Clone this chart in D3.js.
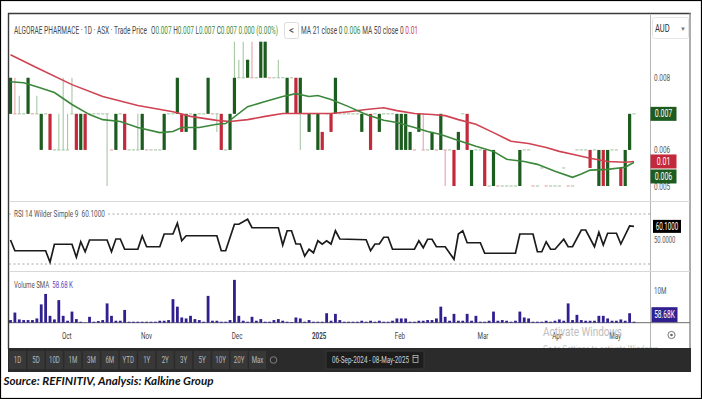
<!DOCTYPE html>
<html>
<head>
<meta charset="utf-8">
<script src="https://cdn.jsdelivr.net/npm/d3@7"></script>
<style>
  body { margin: 0; background: #fff; }
  svg { display: block; font-family: Roboto, "Liberation Sans", sans-serif; }
</style>
</head>
<body>
<div id="chart"></div>
<script>
// prices in thousandths of AUD: [open, high, low, close], one row per trading day
const ohlc = [
    [7,8,7,8],[7,8,7,7],[7,7.5,7,7],[7,7,7,7],[7,8,7,8],[7,7,7,7],[7,7.5,7,7],[6,7,6,7],[7,7,7,7],[7,7,6,6],
    [6,6,6,6],[6,7,6,6],[6,8,6,6],[6,7,6,6],[7,8,7,7],[7,7,6,6],[6,7,6,7],[7,7,6,6],[7,7,7,7],[7,7,7,7],
    [7,7,7,7],[7,7,7,7],[7,7,5,7],[6,6,6,6],[6,7,6,7],[7,7,7,7],[7,7,6,6],[6,6,6,6],[6,6,6,6],[6,7,6,6],
    [6,7,6,7],[6,6,6,6],[6,6,6,6],[6,6,6,6],[6,6,6,6],[6,7,6,7],[7,7,7,7],[7,7,7,7],[7,8,7,8],[7,7,6.5,6.5],
    [6.5,7,6.5,7],[7,7,7,7],[6,7,6,7],[7,7,7,7],[7,7,7,7],[7,8,7,8],[7,7,7,7],[7,7,6.5,7],[7,7,6,6],[6,6,6,6],
    [6,7,6,7],[7,9,7,8],[8,8.5,8,8],[8,9,8,8],[8,8.5,8,8.5],[8,9,8,8],[8,8,8,8],[8,9,8,9],[8,9,8,9],[8,8,8,8],
    [8,8,8,8],[8,8.5,8,8],[8,8,8,8],[7,8,7,8],[8,8,8,8],[8,8,7,7],[7,8,6,8],[7,7,7,7],[6.5,7,6.5,7],[7,7,7,7],
    [6,7,6,7],[6.5,6.5,6,6],[7,7,7,7],[7,7,6.5,6.5],[7,8,7,8],[7,7,7,7],[7,7,7,7],[7,7,7,7],[7,7,7,7],[7,7,7,7],
    [6.5,7,6.5,7],[7,7,7,7],[7,7,6,6],[7,7,7,7],[6.5,7,6.5,7],[7,7,7,7],[7,7,7,7],[7,7,7,7],[6,7,6,7],[6,7,6,7],
    [6,7,6,7],[6,6.5,6,6.5],[6,6,6,6],[6.5,7,6.5,7],[6,7,6,6],[6,6,6,6],[6,6.5,6,6.5],[6,6,6,6],[6,7,6,7],[6,6,5,6],
    [6,6,6,6],[6,6,5,5],[6,6.5,6,6.5],[7,7,7,7],[7,7,6,6],[5,6,5,6],[6,6,6,6],[6,6,6,6],[6,6,5,5],[5,5,5,5],
    [5,6,5,6],[5,5,5,5],[5,5,5,5],[5,5,5,5],[5,5,5,5],[5,5,5,5],[5,6,5,6],[6,6,6,6],[6,6,6,6],[5,5,5,5],
    [5,5,5,5],[5.5,5.5,5.5,5.5],[5,5,5,5],[5,5,5,5],[5,5,5,5],[5,5,5,5],[5.5,5.5,5.5,5.5],[5,5,5,5],[5,5,5,5],[6,6,6,6],
    [6,6,6,6],[6,6,6,6],[6,6,5.5,5.5],[6,6,6,6],[5,6,5,6],[6,6,5,5],[5,6,5,6],[6,6,6,6],[6,6,6,6],[5.5,5.5,5,5],
    [5,6,5,6],[6,7,6,7],[7,7,7,7]
];

// volume in millions of shares
const volumeM = [
    0.8, 3.1, 1.0, 0.8, 0.8, 0.8, 1.3, 5.6, 8.8, 2.1,
    1.0, 6.9, 2.1, 0.6, 3.4, 1.1, 0.3, 0.1, 1.8, 0.3,
    0.5, 0.8, 5.9, 2.1, 0.6, 0.6, 3.9, 0.3, 0.3, 0.3,
    0.3, 0.3, 0.3, 0.3, 0.6, 0.6, 0.8, 7.2, 4.9, 1.6,
    1.3, 2.1, 1.1, 0.8, 0.3, 8.2, 0.6, 0.6, 0.3, 0.3,
    0.8, 13.1, 2.1, 0.6, 0.3, 1.8, 0.6, 1.1, 0.3, 0.3,
    0.8, 1.1, 0.6, 0.3, 0.2, 1.6, 1.3, 0.3, 0.8, 0.3,
    0.3, 0.3, 2.9, 0.6, 2.7, 0.8, 0.3, 0.3, 0.3, 0.3,
    0.6, 0.3, 0.6, 0.3, 0.6, 0.3, 0.3, 0.6, 1.3, 1.3,
    1.3, 0.3, 0.3, 0.6, 0.6, 0.8, 0.8, 1.3, 4.9, 1.8,
    0.6, 2.7, 0.6, 0.6, 2.7, 0.6, 2.1, 0.3, 0.3, 0.6,
    3.4, 0.6, 0.8, 0.6, 0.3, 0.6, 3.4, 1.6, 1.3, 0.3,
    0.3, 0.3, 0.6, 0.3, 0.6, 1.0, 0.6, 5.9, 0.8, 2.4,
    0.8, 0.6, 0.6, 0.6, 2.1, 2.1, 1.3, 0.6, 0.6, 1.0,
    0.6, 2.9, 0.3
];

// moving averages, [day index, price in thousandths]
const ma21 = [
    [0,7.89],[3,7.86],[6,7.75],[10,7.59],[14,7.26],[18,6.98],[21,6.84],[25,6.79],[29,6.62],[34,6.48],
    [37,6.51],[39,6.62],[43,6.62],[47,6.71],[49,6.73],[54,7.20],[58,7.34],[62,7.48],[65,7.56],[68,7.48],
    [70,7.51],[73,7.40],[77,7.20],[81,6.98],[85,6.82],[88,6.76],[92,6.62],[95,6.51],[98,6.43],[102,6.26],
    [106,6.10],[110,5.96],[113,5.74],[117,5.68],[120,5.60],[124,5.41],[128,5.24],[130,5.33],[132,5.44],[136,5.46],
    [140,5.52],[142,5.66]
];
const ma50 = [
    [0,8.64],[6,8.28],[14,7.81],[21,7.48],[29,7.23],[37,7.06],[41,6.93],[47,6.82],[50,6.79],[54,6.84],
    [58,6.93],[62,7.01],[65,7.01],[69,7.01],[73,7.01],[77,7.06],[81,7.12],[85,7.17],[88,7.09],[92,7.01],
    [96,6.98],[99,6.95],[102,6.84],[106,6.71],[110,6.48],[114,6.24],[118,6.18],[122,6.07],[125,5.96],[129,5.85],
    [132,5.77],[136,5.68],[140,5.66],[142,5.68]
];

// RSI 14, [day index, value]
const rsi = [
    [0,49.2],[1,40.6],[8,40.6],[9,31.4],[10,45.8],[14,45.8],[15,35.4],[16,47.8],[17,39.8],[18,49.2],
    [22,49.2],[23,39.8],[24,50],[25,50],[26,41.8],[29,41.8],[30,52.4],[31,43.8],[34,43.8],[35,54],
    [37,54],[38,62.6],[39,48.6],[40,52.6],[47,52.6],[48,40.6],[49,40.6],[51,61.8],[52,61.8],[54,65.8],
    [55,59],[61,59],[62,45.2],[63,56.6],[64,56.6],[65,46],[66,46],[67,36.4],[68,41.8],[69,39],
    [70,48.6],[71,45.8],[72,48.6],[73,46],[74,56.6],[75,50],[81,49.4],[82,40.6],[83,46],[84,46],
    [85,51.4],[86,51.4],[87,41.8],[92,41.8],[93,48.6],[94,43],[95,49.8],[96,49.8],[97,43.8],[99,43.8],
    [101,33.8],[102,54],[103,56.6],[104,47],[107,47],[108,38.6],[115,38.6],[116,54],[119,54],[120,39.8],
    [121,39.8],[122,47.8],[123,41.8],[124,41.8],[126,49.8],[127,43.8],[128,43.8],[130,57.2],[131,57.2],[133,43.8],
    [134,55.4],[135,45.2],[136,54.6],[138,54.6],[139,46],[141,60.4],[142,60.1]
];

const monthLabels = ["Oct", "Nov", "Dec", "2025", "Feb", "Mar", "Apr", "May"];
const monthIdx = [12.8, 31, 51.6, 70.3, 88.7, 107.6, 124.5, 137.7];
const priceTicks = [8, 7, 6, 5];
const rsiBands = [70, 30];
const rangeButtons = ["1D", "5D", "10D", "1M", "3M", "6M", "YTD", "1Y", "2Y", "3Y", "5Y", "10Y", "20Y", "Max"];
const maLabels = ["0.006", "0.01"];
const rsiLast = 60.1;
const volSmaK = 58.68;

const UP = "#1d5c1f", DN = "#c2293b", UP_L = "#a7c7a5", DN_L = "#e8a2ab";
const GREY = "#4a4a4a", GREEN_TXT = "#3f8f3f";

const svg = d3.select("#chart").append("svg")
    .attr("width", 702)
    .attr("height", 399);

function squeeze(sel, k) {
    sel.each(function () {
        const w = this.getComputedTextLength();
        d3.select(this).attr("textLength", w * k).attr("lengthAdjust", "spacingAndGlyphs");
    });
    return sel;
}

// coloured text pieces one after another, narrowed into a given width by a horizontal scale
function runText(parent, x0, y, width, parts, size) {
    const g = parent.append("g");
    const nodes = parts.map(([t, c]) => g.append("text").attr("y", 0).attr("fill", c)
        .style("font-size", size).attr("xml:space", "preserve").text(t));
    const ws = nodes.map(n => n.node().getComputedTextLength());
    const k = width / d3.sum(ws);
    let cx = 0;
    nodes.forEach((n, j) => { n.attr("x", cx); cx += ws[j]; });
    g.attr("transform", `translate(${x0},${y}) scale(${k},1)`);
    return g;
}

const x = d3.scaleLinear().domain([0, ohlc.length - 1]).range([10.5, 634]);
const yP = d3.scaleLinear().domain([5, 9]).range([186, 41.7]);
const yR = d3.scaleLinear().domain([30, 70]).range([264, 214]);
const yV = d3.scaleLinear().domain([0, 10]).range([322.7, 290]);
const fmtP = v => (v / 1000).toFixed(3);

// frame
svg.append("rect").attr("x", 0.5).attr("y", 0.5).attr("width", 701).attr("height", 398)
    .attr("fill", "#fff").attr("stroke", "#000").attr("stroke-width", 1.2);

svg.append("line").attr("x1", 8).attr("x2", 691).attr("y1", 13.5).attr("y2", 13.5)
    .attr("stroke", "#3a3a3a").attr("stroke-width", 1.6);
svg.append("line").attr("x1", 8.5).attr("x2", 8.5).attr("y1", 13).attr("y2", 349)
    .attr("stroke", "#3a3a3a").attr("stroke-width", 1.4);
svg.append("line").attr("x1", 690).attr("x2", 690).attr("y1", 13).attr("y2", 372)
    .attr("stroke", "#8a8a8a").attr("stroke-width", 1.4);
svg.append("line").attr("x1", 650.5).attr("x2", 650.5).attr("y1", 15).attr("y2", 348)
    .attr("stroke", "#b5b5b5");
[201.5, 271.5].forEach(yy => {
    svg.append("line").attr("x1", 9).attr("x2", 690).attr("y1", yy).attr("y2", yy)
        .attr("stroke", "#d8d8d8");
});
svg.append("line").attr("x1", 9).attr("x2", 690).attr("y1", 322.7).attr("y2", 322.7)
    .attr("stroke", "#6a6a6a");

// header
const head = svg.append("g");
runText(head, 14, 33.5, 133, [["ALGORAE PHARMACE · 1D · ASX · Trade Price", GREY]], "10px");
const last = ohlc[ohlc.length - 1];
runText(head, 151, 33.5, 127, [
    ["O", GREY], [fmtP(last[0]), GREEN_TXT],
    [" H", GREY], [fmtP(last[1]), GREEN_TXT],
    [" L", GREY], [fmtP(last[2]), GREEN_TXT],
    [" C", GREY], [fmtP(last[3]), GREEN_TXT],
    [" 0.000 (0.00%)", GREEN_TXT]
], "10px");

head.append("rect").attr("x", 284.5).attr("y", 22.5).attr("width", 14).attr("height", 16).attr("rx", 2)
    .attr("fill", "#fff").attr("stroke", "#dcdcdc");
head.append("text").attr("x", 291.5).attr("y", 33.5).attr("text-anchor", "middle")
    .style("font-size", "10px").attr("fill", "#444").text("<");

runText(head, 301, 33.5, 117, [
    ["MA 21 close 0 ", GREY], [maLabels[0], GREEN_TXT],
    [" MA 50 close 0 ", GREY], [maLabels[1], "#d04050"]
], "10px");

// currency selector
svg.append("rect").attr("x", 652.5).attr("y", 17.5).attr("width", 36).attr("height", 21).attr("rx", 2)
    .attr("fill", "#fff").attr("stroke", "#e6e6e6");
squeeze(svg.append("text").attr("x", 655).attr("y", 32).attr("fill", "#333")
    .style("font-size", "10.5px").text("AUD"), 0.72);
svg.append("text").attr("x", 683).attr("y", 31).attr("fill", "#777").attr("text-anchor", "middle")
    .style("font-size", "6px").text("▼");

// plot clip
svg.append("clipPath").attr("id", "plotClip")
    .append("rect").attr("x", 9).attr("y", 14).attr("width", 641).attr("height", 334);
const plot = svg.append("g").attr("clip-path", "url(#plotClip)");

// candles
const candles = ohlc.map((d, i) => ({
    i, o: d[0], h: d[1], l: d[2], c: d[3],
    prev: i ? ohlc[i - 1][3] : d[0]
}));
const isUp = d => d.c > d.o || (d.c === d.o && d.c >= d.prev);
const bw = 3.2;

const cg = plot.append("g");
cg.selectAll("line.wick")
    .data(candles.filter(d => d.h > d.l))
    .enter().append("line")
    .attr("class", "wick")
    .attr("x1", d => x(d.i)).attr("x2", d => x(d.i))
    .attr("y1", d => yP(d.h)).attr("y2", d => yP(d.l))
    .attr("stroke", d => isUp(d) ? UP_L : DN_L)
    .attr("stroke-width", 1.1);

cg.selectAll("line.flat")
    .data(candles.filter(d => d.c === d.o))
    .enter().append("line")
    .attr("class", "flat")
    .attr("x1", d => x(d.i) - bw / 2).attr("x2", d => x(d.i) + bw / 2)
    .attr("y1", d => yP(d.c)).attr("y2", d => yP(d.c))
    .attr("stroke", d => isUp(d) ? UP_L : DN_L)
    .attr("stroke-width", 1.1);

cg.selectAll("rect.body")
    .data(candles.filter(d => d.c !== d.o))
    .enter().append("rect")
    .attr("class", "body")
    .attr("x", d => x(d.i) - bw / 2)
    .attr("width", bw)
    .attr("y", d => yP(Math.max(d.o, d.c)))
    .attr("height", d => Math.abs(yP(d.o) - yP(d.c)))
    .attr("fill", d => isUp(d) ? UP : DN);

// moving averages
const maLine = d3.line().x(d => x(d[0])).y(d => yP(d[1]));
plot.append("path").datum(ma50).attr("d", maLine)
    .attr("fill", "none").attr("stroke", "#cf4352").attr("stroke-width", 1.6);
plot.append("path").datum(ma21).attr("d", maLine)
    .attr("fill", "none").attr("stroke", "#3b873b").attr("stroke-width", 1.6);

// price axis (the tick under the last-price tag is hidden there, as in the source)
const lastClose = last[3];
const pAxis = svg.append("g").style("font-size", "9.5px");
pAxis.selectAll("text")
    .data(priceTicks.filter(t => Math.abs(yP(t) - yP(lastClose)) > 7))
    .enter().append("text")
    .attr("x", 654)
    .attr("y", d => yP(d) + 3.5)
    .attr("fill", "#555")
    .text(fmtP)
    .call(squeeze, 0.68);

function tag(g, cy, label, bg, fg, w) {
    g.append("rect").attr("x", 650.5).attr("y", cy - 7).attr("width", w).attr("height", 14)
        .attr("fill", bg);
    squeeze(g.append("text").attr("x", 650.5 + w / 2).attr("y", cy + 3.6).attr("text-anchor", "middle")
        .attr("fill", fg).style("font-size", "10px").text(label), 0.7);
}
const ma50Last = ma50[ma50.length - 1][1];
const ma21Last = ma21[ma21.length - 1][1];
const yMa50Tag = yP(ma50Last);
const yMa21Tag = Math.max(yP(ma21Last), yMa50Tag + 15);
tag(svg, yP(lastClose), fmtP(lastClose), UP, "#fff", 26);
tag(svg, yMa50Tag, maLabels[1], DN, "#fff", 26);
tag(svg, yMa21Tag, maLabels[0], UP, "#fff", 26);

// RSI panel
const rsiG = svg.append("g");
rsiG.selectAll("line.band")
    .data(rsiBands)
    .enter().append("line")
    .attr("x1", 9).attr("x2", 650)
    .attr("y1", d => yR(d)).attr("y2", d => yR(d))
    .attr("stroke", "#a8a8a8").attr("stroke-dasharray", "2,2.5");
rsiG.append("path").datum(rsi)
    .attr("d", d3.line().x(d => x(d[0])).y(d => yR(d[1])))
    .attr("fill", "none").attr("stroke", "#1b1b1b").attr("stroke-width", 1.7);

rsiG.append("rect").attr("x", 12).attr("y", yR(70) - 5).attr("width", 95).attr("height", 10)
    .attr("fill", "#fff");
runText(rsiG, 14, yR(70) + 3.3, 91, [["RSI 14 Wilder Simple 9  " + rsiLast.toFixed(4), "#555"]], "9.5px");

squeeze(rsiG.append("text").attr("x", 654).attr("y", yR(50) + 3.5).attr("fill", "#555")
    .style("font-size", "9.5px").text("50.0000"), 0.62);
rsiG.append("rect").attr("x", 653).attr("y", yR(rsiLast) - 6.5).attr("width", 28).attr("height", 13)
    .attr("fill", "#000");
squeeze(rsiG.append("text").attr("x", 667).attr("y", yR(rsiLast) + 3.5).attr("text-anchor", "middle")
    .attr("fill", "#fff").style("font-size", "10px").text(rsiLast.toFixed(4)), 0.62);

// volume panel
const volG = svg.append("g");
volG.selectAll("rect")
    .data(volumeM)
    .enter().append("rect")
    .attr("x", (d, i) => x(i) - 1.4)
    .attr("width", 2.8)
    .attr("y", d => yV(d))
    .attr("height", d => yV(0) - yV(d))
    .attr("fill", "#2f1f8f");

runText(volG, 14, 288, 59, [["Volume SMA  ", "#555"], [volSmaK.toFixed(2) + " K", "#5a4ac8"]], "9.5px");

squeeze(volG.append("text").attr("x", 654).attr("y", yV(10) + 3.5).attr("fill", "#555")
    .style("font-size", "9.5px").text("10M"), 0.66);
const smaY = Math.min(yV(volSmaK / 1000), yV(0) - 8);
volG.append("rect").attr("x", 651.5).attr("y", smaY - 7.5).attr("width", 26).attr("height", 15)
    .attr("fill", "#2f1f8f");
squeeze(volG.append("text").attr("x", 664.5).attr("y", smaY + 3.5).attr("text-anchor", "middle")
    .attr("fill", "#fff").style("font-size", "10px").text(volSmaK.toFixed(2) + "K"), 0.66);

// month axis
svg.append("g").selectAll("text")
    .data(monthLabels)
    .enter().append("text")
    .attr("x", (d, i) => x(monthIdx[i]))
    .attr("y", 338.5)
    .attr("text-anchor", "middle")
    .attr("fill", "#444")
    .style("font-size", "9.5px")
    .style("font-weight", d => d === "2025" ? "bold" : "normal")
    .text(d => d)
    .call(squeeze, 0.66);

svg.append("circle").attr("cx", 671.5).attr("cy", 335).attr("r", 3.6)
    .attr("fill", "none").attr("stroke", "#666").attr("stroke-width", 0.9);
svg.append("circle").attr("cx", 671.5).attr("cy", 335).attr("r", 1.3).attr("fill", "#666");

// Windows watermark
svg.append("text").attr("x", 543).attr("y", 335.5).attr("fill", "#bdbdbd")
    .style("font-size", "12.5px").attr("textLength", 79).attr("lengthAdjust", "spacingAndGlyphs")
    .text("Activate Windows");
svg.append("text").attr("x", 543).attr("y", 352).attr("fill", "#c4c4c4")
    .style("font-size", "8.5px").attr("textLength", 117).attr("lengthAdjust", "spacingAndGlyphs")
    .text("Go to Settings to activate Windows.");

// range toolbar
svg.append("rect").attr("x", 8).attr("y", 348).attr("width", 683).attr("height", 24).attr("fill", "#2b2b2b");
const bx = d3.scaleBand().domain(rangeButtons).range([9, 266]).paddingInner(0.08);
const btn = svg.append("g").selectAll("g")
    .data(rangeButtons)
    .enter().append("g");
btn.append("rect")
    .attr("x", d => bx(d)).attr("y", 351).attr("width", bx.bandwidth()).attr("height", 18)
    .attr("fill", "#383838");
btn.append("text")
    .attr("x", d => bx(d) + bx.bandwidth() / 2).attr("y", 363)
    .attr("text-anchor", "middle").attr("fill", "#b8b8b8")
    .style("font-size", "8.5px")
    .text(d => d)
    .call(squeeze, 0.72);
svg.append("circle").attr("cx", 273.5).attr("cy", 360).attr("r", 3.3)
    .attr("fill", "none").attr("stroke", "#8a8a8a").attr("stroke-width", 0.9);

svg.append("rect").attr("x", 326).attr("y", 351).attr("width", 98).attr("height", 18)
    .attr("fill", "#1d1d1d").attr("stroke", "#3a3a3a");
svg.append("text").attr("x", 332).attr("y", 363).attr("fill", "#d0d0d0")
    .style("font-size", "8.5px").attr("textLength", 77).attr("lengthAdjust", "spacingAndGlyphs")
    .text("06-Sep-2024 - 08-May-2025");
svg.append("rect").attr("x", 413).attr("y", 355.5).attr("width", 5).attr("height", 7)
    .attr("fill", "none").attr("stroke", "#bbb").attr("stroke-width", 0.8);
svg.append("line").attr("x1", 413).attr("x2", 418).attr("y1", 357.5).attr("y2", 357.5)
    .attr("stroke", "#bbb").attr("stroke-width", 0.8);

// source note
svg.append("text").attr("x", 3.5).attr("y", 385)
    .style("font-family", "Lato, 'Open Sans', sans-serif")
    .style("font-size", "12px").style("font-weight", "bold").style("font-style", "italic")
    .attr("fill", "#111")
    .attr("textLength", 210).attr("lengthAdjust", "spacingAndGlyphs")
    .text("Source: REFINITIV, Analysis: Kalkine Group");
</script>
</body>
</html>
